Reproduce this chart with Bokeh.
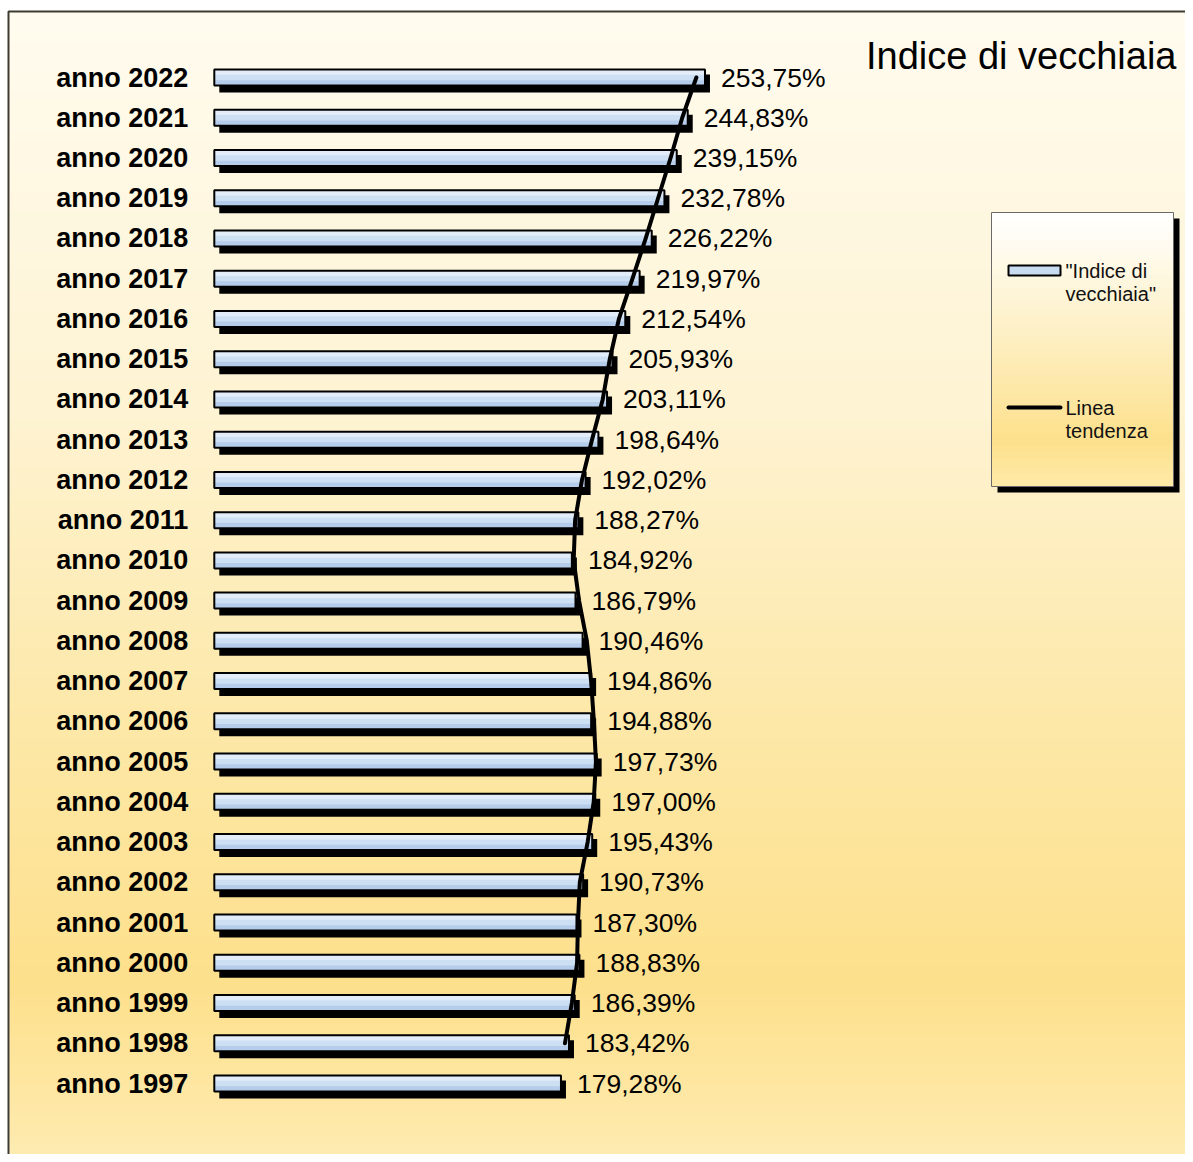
from bokeh.plotting import figure
from bokeh.models import Range1d, ColumnDataSource
from bokeh.core.properties import value
from bokeh.embed import file_html
from bokeh.resources import INLINE

# ---------------- data ----------------
years = [1997, 1998, 1999, 2000, 2001, 2002, 2003, 2004, 2005, 2006, 2007, 2008, 2009,
         2010, 2011, 2012, 2013, 2014, 2015, 2016, 2017, 2018, 2019, 2020, 2021, 2022]
indice = [179.28, 183.42, 186.39, 188.83, 187.30, 190.73, 195.43, 197.00, 197.73, 194.88,
          194.86, 190.46, 186.79, 184.92, 188.27, 192.02, 198.64, 203.11, 205.93, 212.54,
          219.97, 226.22, 232.78, 239.15, 244.83, 253.75]
year_labels = ["anno %d" % y for y in years]
value_labels = [("%.2f" % v).replace(".", ",") + "%" for v in indice]
title_text = "Indice di vecchiaia"
legend_bar_text = ['"Indice di', 'vecchiaia"']
legend_line_text = ["Linea", "tendenza"]

# trend line: 2-period moving average
trend_years = years[1:]
trend_vals = [(indice[i - 1] + indice[i]) / 2 for i in range(1, len(indice))]

# ---------------- geometry ----------------
W, H = 1185, 1154
PXU = 1.9337          # px per unit on x
X0 = -213.8 / PXU
X1 = X0 + W / PXU
YPX = 40.24           # px per year
Y1 = 2022 + 77 / YPX
Y0 = Y1 - H / YPX


def fx(px):
    return X0 + px / PXU


def fy(py):  # py measured from top of figure
    return Y1 - py / YPX


def hexmix(c1, c2, t):
    a = [int(c1[i:i + 2], 16) for i in (1, 3, 5)]
    b = [int(c2[i:i + 2], 16) for i in (1, 3, 5)]
    return "#%02x%02x%02x" % tuple(round(a[k] + (b[k] - a[k]) * t) for k in range(3))


def grad(stops, t):
    for i in range(len(stops) - 1):
        t0, c0 = stops[i]
        t1, c1 = stops[i + 1]
        if t <= t1:
            return hexmix(c0, c1, (t - t0) / (t1 - t0) if t1 > t0 else 0)
    return stops[-1][1]


p = figure(width=W, height=H, x_range=Range1d(X0, X1), y_range=Range1d(Y0, Y1),
           output_backend="svg", toolbar_location=None, min_border=0,
           x_axis_location=None, y_axis_location=None,
           background_fill_color="white", border_fill_color="white")
p.outline_line_color = None
p.xgrid.visible = False
p.ygrid.visible = False

# background gradient
bg_stops = [(0.0, "#fffbef"), (0.35, "#fef3d2"), (0.62, "#fde8a8"),
            (0.85, "#fde08c"), (1.0, "#feebb0")]
top_px, bot_px = 12, H
n = 115
step = (bot_px - top_px) / n
l, r, t, b, cols = [], [], [], [], []
for i in range(n):
    y0 = top_px + i * step
    t.append(fy(y0))
    b.append(fy(y0 + step + 1))
    l.append(fx(9))
    r.append(fx(W))
    cols.append(grad(bg_stops, (i + 0.5) / n))
p.quad(left=l, right=r, top=t, bottom=b, fill_color=cols, line_color=None)
# frame border
p.line([fx(8), fx(8), fx(W)], [fy(H), fy(11), fy(11)], line_color="#3f3a30", line_width=2)

# ---------------- legend box ----------------
LX0, LX1, LY0, LY1 = 991, 1173, 212, 486
p.quad(left=[fx(LX0 + 6)], right=[fx(LX1 + 6)], top=[fy(LY0 + 6)], bottom=[fy(LY1 + 6)],
       fill_color="black", line_color=None)
lg_stops = [(0.0, "#ffffff"), (0.45, "#fef0c4"), (0.83, "#fde08c"), (1.0, "#feeaa8")]
n2 = 40
st2 = (LY1 - LY0) / n2
l, r, t, b, cols = [], [], [], [], []
for i in range(n2):
    y0 = LY0 + i * st2
    t.append(fy(y0))
    b.append(fy(min(y0 + st2 + 1, LY1)))
    l.append(fx(LX0))
    r.append(fx(LX1))
    cols.append(grad(lg_stops, (i + 0.5) / n2))
p.quad(left=l, right=r, top=t, bottom=b, fill_color=cols, line_color=None)
p.quad(left=[fx(LX0)], right=[fx(LX1)], top=[fy(LY0)], bottom=[fy(LY1)],
       fill_color=None, line_color="#6a6a6a", line_width=1)
# legend icons
p.quad(left=[fx(1008)], right=[fx(1060)], top=[fy(265)], bottom=[fy(275)],
       fill_color="#c9dbf1", line_color="black", line_width=2)
p.line([fx(1008), fx(1060)], [fy(407), fy(407)], line_color="black", line_width=4,
       line_cap="round")
leg_font = dict(text_font=value("Liberation Sans"), text_font_size="20px",
                text_baseline="middle", text_align="left", text_color="#111111")
p.text(x=[fx(1065)] * 2, y=[fy(270), fy(293)], text=legend_bar_text, **leg_font)
p.text(x=[fx(1065)] * 2, y=[fy(407), fy(430)], text=legend_line_text, **leg_font)

# title
p.text(x=[fx(1176)], y=[fy(55)], text=[title_text], text_font=value("Liberation Sans"),
       text_font_size="38px", text_align="right", text_baseline="middle",
       text_color="#000000")

# ---------------- bars ----------------
BH = 16 / YPX
dx = 5 / PXU
dy = 6 / YPX
src = ColumnDataSource(dict(
    y=years, v=indice, lab=year_labels, vlab=value_labels,
    ys=[y - dy for y in years], vs=[v + dx for v in indice],
    y_top=[y + BH / 3 for y in years], y_bot=[y - BH / 3 for y in years],
))
# shadow
p.hbar(y="ys", left=dx, right="vs", height=BH + 2 / YPX, source=src,
       fill_color="black", line_color=None)
# gradient fill (three bands)
p.hbar(y="y", left=0, right="v", height=BH, source=src, fill_color="#cddff3", line_color=None)
p.hbar(y="y_top", left=0, right="v", height=BH / 3, source=src, fill_color="#e3edf9", line_color=None)
p.hbar(y="y_bot", left=0, right="v", height=BH / 3, source=src, fill_color="#b5cdea", line_color=None)
# outline
p.hbar(y="y", left=0, right="v", height=BH, source=src, fill_alpha=0,
       line_color="black", line_width=2)

# trend line
p.line(trend_vals, trend_years, line_color="black", line_width=4, line_join="round",
       line_cap="round")

# labels
p.text(x=0, y="y", text="lab", source=src, x_offset=-26,
       text_font=value("Liberation Sans"), text_font_style="bold", text_font_size="27px",
       text_align="right", text_baseline="middle", text_color="#000000")
p.text(x="v", y="y", text="vlab", source=src, x_offset=16,
       text_font=value("Liberation Sans"), text_font_size="26.5px",
       text_align="left", text_baseline="middle", text_color="#000000")

open("out.html", "w").write(file_html(p, INLINE))
